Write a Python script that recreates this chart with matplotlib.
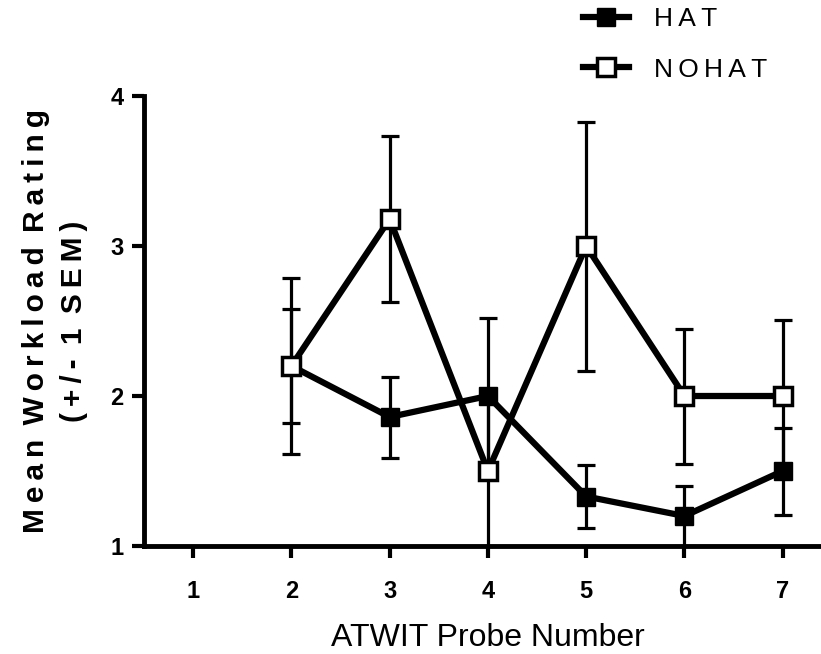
import matplotlib
matplotlib.use('Agg')
import matplotlib.pyplot as plt

plt.rcParams['font.family'] = ['Liberation Sans', 'DejaVu Sans']

# ATWIT probe data, mean workload rating +/- 1 SEM
probes = [2, 3, 4, 5, 6, 7]
hat = [2.2, 1.86, 2.0, 1.33, 1.2, 1.5]
hat_sem = [0.38, 0.27, 0.52, 0.21, 0.2, 0.29]
nohat = [2.2, 3.18, 1.5, 3.0, 2.0, 2.0]
nohat_sem = [0.59, 0.55, 0.5, 0.83, 0.45, 0.51]
xticks = [1, 2, 3, 4, 5, 6, 7]
yticks = [1, 2, 3, 4]

TS = '\u2009'  # thin space, used for letter spacing


def spaced(s):
    return TS.join(list(s))


fig = plt.figure(figsize=(8.21, 6.54), dpi=100)
ax = fig.add_axes([144/821, 1 - 546/654, (822 - 144)/821, (546 - 96)/654])

eb = dict(fmt='none', ecolor='black', elinewidth=2.3, capsize=6.2, capthick=2.3, zorder=2)
ax.errorbar(probes, hat, yerr=hat_sem, **eb)
ax.errorbar(probes, nohat, yerr=nohat_sem, **eb)
ax.plot(probes, hat, color='black', lw=4.5, marker='s', ms=12.5,
        mfc='black', mec='black', label=spaced('HAT'), zorder=3)
ax.plot(probes, nohat, color='black', lw=4.5, marker='s', ms=12.5,
        mfc='white', mec='black', mew=2.5, label=spaced('NOHAT'), zorder=4)

ax.set_xlim(0.5, 7.4)
ax.set_ylim(1, 4)
ax.set_xticks(xticks)
ax.set_yticks(yticks)
for s in ['top', 'right']:
    ax.spines[s].set_visible(False)
for s in ['left', 'bottom']:
    ax.spines[s].set_linewidth(3.5)
ax.tick_params(axis='both', length=8.5, width=3, labelsize=17)
ax.tick_params(axis='x', pad=16)
ax.tick_params(axis='y', pad=6)
for lab in ax.get_xticklabels() + ax.get_yticklabels():
    lab.set_fontweight('bold')

ax.set_xlabel('ATWIT Probe Number', fontsize=23)
ax.xaxis.set_label_coords(0.507, -0.17)
ax.set_ylabel(spaced('Mean') + ' ' + TS + spaced('Workload') + ' ' + TS + spaced('Rating')
              + '\n' + spaced('(+/-') + ' ' + TS + '1' + ' ' + TS + spaced('SEM)'),
              fontsize=21.5, fontweight='bold', linespacing=1.45, multialignment='center')
ax.yaxis.set_label_coords(-0.083, 0.5)

fig.legend(loc='upper left', bbox_to_anchor=(583/821, 0.989), frameon=False,
           fontsize=19, handlelength=1.75, handletextpad=0.95, labelspacing=1.0,
           borderpad=0, borderaxespad=0, numpoints=1)

fig.savefig('out.png', dpi=100)
